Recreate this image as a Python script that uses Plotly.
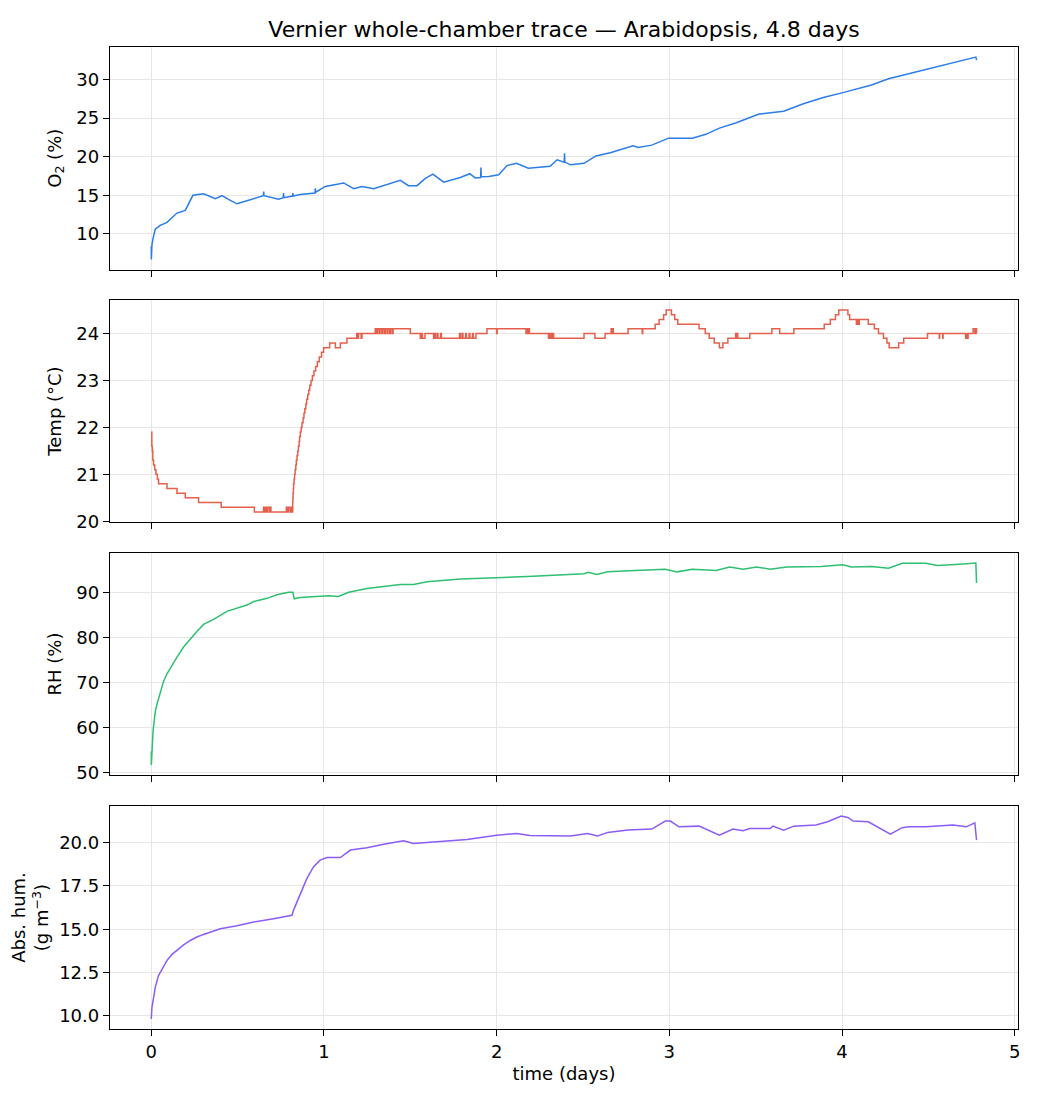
import plotly.graph_objects as go
from plotly.subplots import make_subplots

# ---------------- data ----------------
o2_t = [0.0, 0.0005, 0.004, 0.01, 0.023, 0.052, 0.091, 0.149, 0.197, 0.241, 0.303, 0.371, 0.409,
        0.458, 0.496, 0.554, 0.649, 0.651, 0.653, 0.737, 0.764, 0.766, 0.768, 0.818, 0.82, 0.822,
        0.863, 0.948, 0.95, 0.952, 1.008, 1.114, 1.172, 1.22, 1.288, 1.442, 1.49, 1.539, 1.587,
        1.631, 1.693, 1.79, 1.844, 1.876, 1.907, 1.909, 1.911, 1.954, 2.012, 2.06, 2.115, 2.183,
        2.31, 2.35, 2.379, 2.391, 2.393, 2.395, 2.428, 2.506, 2.575, 2.663, 2.79, 2.82, 2.898,
        2.996, 3.133, 3.212, 3.29, 3.388, 3.515, 3.662, 3.78, 3.897, 4.005, 4.171, 4.269, 4.465,
        4.602, 4.775, 4.779]
o2_v = [8.4, 6.7, 8.6, 9.4, 10.6, 11.1, 11.5, 12.7, 13.05, 15.0, 15.2, 14.55, 14.95,
        14.35, 13.9, 14.3, 14.95, 15.5, 14.95, 14.5, 14.7, 15.3, 14.7, 14.9, 15.3, 14.9,
        15.1, 15.3, 15.9, 15.4, 16.15, 16.6, 15.85, 16.15, 15.85, 16.95, 16.25, 16.25, 17.2,
        17.75, 16.7, 17.3, 17.8, 17.25, 17.3, 18.6, 17.4, 17.45, 17.65, 18.85, 19.15, 18.5,
        18.75, 19.6, 19.4, 19.3, 20.45, 19.3, 18.95, 19.15, 20.1, 20.55, 21.4, 21.2, 21.5,
        22.4, 22.4, 22.9, 23.7, 24.4, 25.5, 25.9, 26.9, 27.7, 28.3, 29.3, 30.1, 31.2,
        31.9, 32.9, 32.5]

temp_t = [0.0, 0.003, 0.006, 0.009, 0.013, 0.02, 0.027, 0.035, 0.042, 0.091, 0.149, 0.197,
          0.274, 0.405, 0.597, 0.650, 0.655, 0.660, 0.668, 0.675, 0.685, 0.690, 0.693,
          0.782, 0.790, 0.795, 0.805, 0.810, 0.815,
          0.819, 0.820, 0.821, 0.823, 0.824, 0.827, 0.830, 0.833, 0.837, 0.840, 0.844,
          0.848, 0.852, 0.856, 0.859, 0.863, 0.868, 0.873, 0.879, 0.884, 0.889, 0.895,
          0.900, 0.906, 0.912, 0.918, 0.925, 0.933, 0.942, 0.952, 0.962, 0.973, 0.986,
          0.998, 1.033, 1.066, 1.095, 1.133, 1.190, 1.195, 1.200, 1.215, 1.220, 1.297,
          1.305, 1.310, 1.320, 1.325, 1.335, 1.340, 1.350, 1.355, 1.365, 1.370, 1.380,
          1.385, 1.395, 1.400, 1.500, 1.558, 1.565, 1.570, 1.585, 1.635, 1.640, 1.645,
          1.655, 1.660, 1.675, 1.680, 1.785, 1.790, 1.800, 1.805, 1.820, 1.825, 1.840,
          1.845, 1.860, 1.865, 1.880, 1.944, 2.000, 2.003, 2.170, 2.175, 2.180, 2.185,
          2.190, 2.300, 2.305, 2.310, 2.315, 2.320, 2.325, 2.330, 2.506, 2.569, 2.628,
          2.663, 2.668, 2.670, 2.675, 2.761, 2.843, 2.846, 2.918, 2.941, 2.967, 2.982,
          3.012, 3.031, 3.049, 3.172, 3.208, 3.231, 3.260, 3.290, 3.310, 3.339, 3.384,
          3.388, 3.392, 3.396, 3.466, 3.594, 3.639, 3.721, 3.897, 3.932, 3.962, 3.981,
          4.034, 4.044, 4.083, 4.090, 4.095, 4.100, 4.152, 4.187, 4.211, 4.240, 4.260,
          4.273, 4.328, 4.357, 4.495, 4.563, 4.565, 4.583, 4.585, 4.716, 4.720, 4.725,
          4.730, 4.759, 4.769, 4.775, 4.779]
temp_v = [21.9, 21.6, 21.5, 21.3, 21.2, 21.1, 21.0, 20.9, 20.8, 20.7, 20.6, 20.5,
          20.4, 20.3, 20.2, 20.3, 20.2, 20.3, 20.2, 20.3, 20.2, 20.3, 20.2,
          20.3, 20.2, 20.3, 20.2, 20.3, 20.2,
          20.4, 20.5, 20.6, 20.7, 20.8, 20.9, 21.0, 21.1, 21.2, 21.3, 21.4,
          21.5, 21.6, 21.7, 21.8, 21.9, 22.0, 22.1, 22.2, 22.3, 22.4, 22.5,
          22.6, 22.7, 22.8, 22.9, 23.0, 23.1, 23.2, 23.3, 23.4, 23.5, 23.6,
          23.7, 23.8, 23.7, 23.8, 23.9, 24.0, 23.9, 24.0, 23.9, 24.0, 24.1,
          24.0, 24.1, 24.0, 24.1, 24.0, 24.1, 24.0, 24.1, 24.0, 24.1, 24.0,
          24.1, 24.0, 24.1, 24.0, 23.9, 24.0, 23.9, 24.0, 23.9, 24.0, 23.9,
          24.0, 23.9, 24.0, 23.9, 24.0, 23.9, 24.0, 23.9, 24.0, 23.9, 24.0,
          23.9, 24.0, 23.9, 24.0, 24.1, 24.0, 24.1, 24.0, 24.1, 24.0, 24.1,
          24.0, 23.9, 24.0, 23.9, 24.0, 23.9, 24.0, 23.9, 24.0, 23.9, 24.0,
          24.1, 24.0, 24.1, 24.0, 24.1, 24.0, 24.1, 24.2, 24.3, 24.4, 24.5,
          24.4, 24.3, 24.2, 24.1, 24.0, 23.9, 23.8, 23.7, 23.8, 23.9, 24.0,
          23.9, 24.0, 23.9, 24.0, 24.1, 24.0, 24.1, 24.2, 24.3, 24.4, 24.5,
          24.4, 24.3, 24.2, 24.3, 24.2, 24.3, 24.2, 24.1, 24.0, 23.9, 23.8,
          23.7, 23.8, 23.9, 24.0, 23.9, 24.0, 23.9, 24.0, 23.9, 24.0, 23.9,
          24.0, 24.1, 24.0, 24.1, 24.0]

rh_t = [0.0, 0.0005, 0.01, 0.023, 0.033, 0.052, 0.071, 0.091, 0.12, 0.149, 0.187, 0.226,
        0.264, 0.303, 0.361, 0.438, 0.554, 0.593, 0.67, 0.728, 0.795, 0.82, 0.828, 0.863,
        1.027, 1.085, 1.143, 1.249, 1.442, 1.519, 1.597, 1.79, 2.0, 2.21, 2.506, 2.53, 2.58,
        2.643, 2.8, 2.977, 3.045, 3.133, 3.27, 3.35, 3.427, 3.505, 3.584, 3.68, 3.878, 4.005,
        4.054, 4.171, 4.269, 4.348, 4.485, 4.553, 4.68, 4.775, 4.779]
rh_v = [54.7, 51.7, 59.1, 63.5, 65.2, 68.0, 70.3, 72.0, 74.0, 75.7, 77.95, 79.8,
        81.4, 83.0, 84.1, 85.9, 87.3, 88.1, 88.8, 89.6, 90.15, 90.15, 88.7, 89.0,
        89.4, 89.2, 90.15, 91.0, 91.9, 91.9, 92.5, 93.1, 93.4, 93.7, 94.3, 94.6, 94.1,
        94.7, 95.0, 95.3, 94.7, 95.3, 95.0, 95.8, 95.3, 95.8, 95.3, 95.8, 95.9, 96.3,
        95.8, 95.9, 95.5, 96.6, 96.6, 96.1, 96.4, 96.65, 92.2]

ah_t = [0.0, 0.004, 0.017, 0.023, 0.042, 0.066, 0.091, 0.12, 0.149, 0.187, 0.226, 0.264,
        0.303, 0.4, 0.496, 0.593, 0.708, 0.815, 0.824, 0.863, 0.9, 0.94, 0.978, 1.017,
        1.095, 1.153, 1.249, 1.346, 1.461, 1.519, 1.635, 1.828, 2.0, 2.115, 2.193, 2.428,
        2.526, 2.585, 2.643, 2.76, 2.898, 2.977, 3.006, 3.055, 3.172, 3.29, 3.368, 3.427,
        3.466, 3.584, 3.6, 3.662, 3.72, 3.848, 3.917, 3.995, 4.034, 4.064, 4.152, 4.28,
        4.348, 4.387, 4.485, 4.642, 4.72, 4.769, 4.779]
ah_v = [9.83, 10.5, 11.27, 11.65, 12.33, 12.8, 13.2, 13.55, 13.8, 14.1, 14.35, 14.55,
        14.7, 15.03, 15.2, 15.41, 15.6, 15.8, 16.1, 17.05, 17.9, 18.6, 18.98, 19.13,
        19.13, 19.56, 19.7, 19.9, 20.1, 19.94, 20.02, 20.17, 20.42, 20.52, 20.4, 20.37,
        20.52, 20.37, 20.58, 20.71, 20.77, 21.23, 21.23, 20.9, 20.94, 20.42, 20.77, 20.67,
        20.8, 20.8, 20.94, 20.71, 20.94, 21.0, 21.19, 21.52, 21.44, 21.23, 21.19, 20.48,
        20.85, 20.9, 20.9, 21.0, 20.9, 21.13, 20.13]

x_ticks = [0, 1, 2, 3, 4, 5]
o2_ticks = [10, 15, 20, 25, 30]
temp_ticks = [20, 21, 22, 23, 24]
rh_ticks = [50, 60, 70, 80, 90]
ah_ticks = [10.0, 12.5, 15.0, 17.5, 20.0]

title = "Vernier whole-chamber trace — Arabidopsis, 4.8 days"
x_label = "time (days)"
y_labels = ["O<sub>2</sub> (%)", "Temp (°C)", "RH (%)", "Abs. hum.<br>(g m<sup>−3</sup>)"]
colors = ["#2b7de9", "#e4604c", "#2fbf71", "#8b5cf6"]

# ---------------- figure ----------------
FONT = "DejaVu Sans"
fig = make_subplots(rows=4, cols=1, shared_xaxes=True)

series = [(o2_t, o2_v, "linear"), (temp_t, temp_v, "hv"), (rh_t, rh_v, "linear"), (ah_t, ah_v, "linear")]
for i, (t, v, shape) in enumerate(series):
    fig.add_trace(go.Scatter(x=t, y=v, mode="lines", line=dict(color=colors[i], width=1.5, shape=shape),
                             showlegend=False, hoverinfo="skip"), row=i + 1, col=1)

# page has an 8px body margin, so figure coords = page coords - 8
OFF = 8
W, H = 1024, 1089
plot_l, plot_r, plot_t, plot_b = 110 - OFF, 1018 - OFF, 47 - OFF, 1029 - OFF
ml, mr, mt, mb = plot_l, W - plot_r, plot_t, H - plot_b
ph = plot_b - plot_t
panels_px = [(47, 269.5), (300, 522), (553, 775), (806, 1029)]
domains = [[1 - (b - OFF - mt) / ph, 1 - (t - OFF - mt) / ph] for (t, b) in panels_px]
domains[0][1] = 1.0
domains[3][0] = 0.0

yranges = [[5.39, 34.21], [19.985, 24.715], [49.45, 98.9], [9.25, 22.1]]
yticks = [o2_ticks, temp_ticks, rh_ticks, ah_ticks]
yfmt = ["d", "d", "d", ".1f"]

axis_common = dict(showline=True, linecolor="black", linewidth=1.3, mirror=True,
                   ticks="outside", ticklen=6, tickwidth=1.3, tickcolor="black",
                   showgrid=True, gridcolor="#e6e6e6", gridwidth=1, zeroline=False,
                   tickfont=dict(family=FONT, size=18, color="black"), automargin=False)

for i in range(4):
    fig.update_yaxes(row=i + 1, col=1, domain=domains[i], range=yranges[i], tickvals=yticks[i],
                     tickformat=yfmt[i],
                     title=dict(text=y_labels[i], font=dict(family=FONT, size=18, color="black"),
                                standoff=10),
                     **axis_common)
    fig.update_xaxes(row=i + 1, col=1, range=[-0.239, 5.019], tickvals=x_ticks,
                     showticklabels=(i == 3), **axis_common)

fig.update_xaxes(row=4, col=1, title=dict(text=x_label, font=dict(family=FONT, size=18, color="black"),
                                           standoff=6))

fig.update_layout(
    width=W, height=H,
    margin=dict(l=ml, r=mr, t=mt, b=mb),
    paper_bgcolor="white", plot_bgcolor="white",
    font=dict(family=FONT, size=18, color="black"),
    title=dict(text=title, x=0.5, xref="paper", xanchor="center",
               y=1 - (29 - OFF) / H, yref="container", yanchor="middle",
               font=dict(family=FONT, size=22, color="black")),
)

fig.write_html("out.html")
